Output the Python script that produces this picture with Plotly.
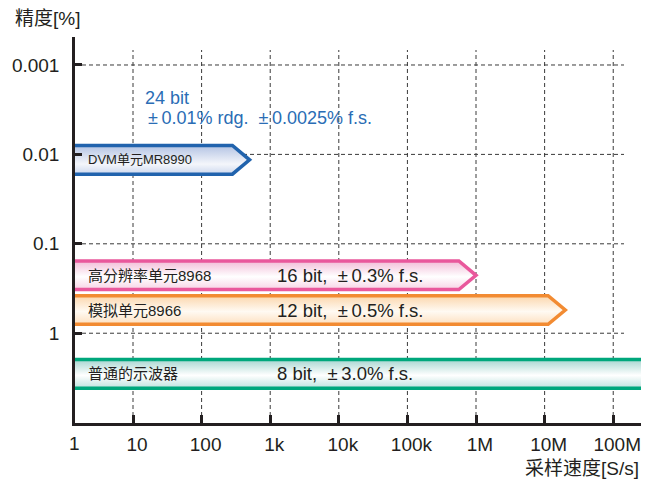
import numpy as np
import plotly.graph_objects as go

# ---- data ----
instruments = ["DVM单元MR8990", "高分辨率单元8968", "模拟单元8966", "普通的示波器"]
max_rate = [500, 1e6, 2e7, 1e9]              # S/s (arrow tip)
band_center = [0.0115, 0.225, 0.55, 2.85]     # accuracy position [%]
spec_text = ["", "16 bit,\u00a0 ±\u20090.3% f.s.", "12 bit,\u00a0 ±\u20090.5% f.s.", "8 bit,\u00a0 ±\u20093.0% f.s."]
dvm_spec = ["24 bit", "±\u20090.01% rdg.\u00a0 ±\u20090.0025% f.s."]
x_tickvals = [10, 100, 1e3, 1e4, 1e5, 1e6, 1e7, 1e8]
x_ticktext = ["10", "100", "1k", "10k", "100k", "1M", "10M", "100M"]
y_tickvals = [0.001, 0.01, 0.1, 1]
y_ticktext = ["0.001", "0.01", "0.1", "1"]

# ---- style ----
border = ["#2163ad", "#e9589c", "#f28b32", "#00a77c"]
grad = [
    [[0, "#cdd8ee"], [0.35, "#f4f6fb"], [1, "#b3c3e3"]],
    [[0, "#f7d3e5"], [0.45, "#ffffff"], [1, "#f2bdd8"]],
    [[0, "#fde0c0"], [0.45, "#fffaf3"], [1, "#fbd6ac"]],
    [[0, "#bfe2de"], [0.45, "#ffffff"], [1, "#a7d6d1"]],
]
HALF = 0.16   # band half height (decades)
HEAD = 0.25   # arrow head depth (decades)
DARK = "#231f20"
GRID = "#3a3a3a"
LAT = "Liberation Sans, Arial, Noto Sans CJK SC"

fig = go.Figure()
for i, name in enumerate(instruments):
    c = np.log10(band_center[i])
    t = np.log10(max_rate[i])
    xs = [0, t - HEAD, t, t - HEAD, 0, 0]
    ys = [c - HALF, c - HALF, c, c + HALF, c + HALF, c - HALF]
    fig.add_trace(go.Scatter(
        x=[10 ** v for v in xs], y=[10 ** v for v in ys],
        mode="lines", fill="toself",
        fillgradient=dict(type="vertical", colorscale=grad[i]),
        line=dict(color=border[i], width=3.5),
        hoverinfo="skip", showlegend=False,
    ))

L, R, T, B = 75, 11, 37, 60
W, H = 652, 483
pw, ph = W - L - R, H - T - B

def px_x(px):
    return (px - L) / pw

def px_y(py):
    return (H - B - py) / ph

# dashed grid drawn as shapes (shorter than the plot area, as in the reference)
shapes = []
for v in x_tickvals:
    shapes.append(dict(type="line", layer="below", xref="x", yref="paper",
                       x0=v, x1=v, y0=0, y1=px_y(50),
                       line=dict(color=GRID, width=1, dash="4px,3px")))
for v in y_tickvals:
    shapes.append(dict(type="line", layer="below", xref="paper", yref="y",
                       x0=0, x1=px_x(624), y0=v, y1=v,
                       line=dict(color=GRID, width=1, dash="4px,3px")))

ann = []
for i, name in enumerate(instruments):
    ann.append(dict(text=name, xref="paper", x=px_x(86), xanchor="left",
                    yref="y", y=np.log10(band_center[i]), yanchor="middle",
                    showarrow=False,
                    font=dict(family=LAT, size=13 if i == 0 else 15, color=DARK)))
    if spec_text[i]:
        ann.append(dict(text=spec_text[i], xref="paper", x=px_x(275), xanchor="left",
                        yref="y", y=np.log10(band_center[i]), yanchor="middle",
                        showarrow=False, font=dict(family=LAT, size=18.5, color=DARK)))
ann.append(dict(text=dvm_spec[0], xref="paper", x=px_x(143), xanchor="left",
                yref="paper", y=px_y(98), yanchor="middle", showarrow=False,
                font=dict(family=LAT, size=18, color="#2a6db5")))
ann.append(dict(text=dvm_spec[1], xref="paper", x=px_x(146), xanchor="left",
                yref="paper", y=px_y(118), yanchor="middle", showarrow=False,
                font=dict(family=LAT, size=18, color="#2a6db5")))
# axis titles
ann.append(dict(text="精度[%]", xref="paper", x=px_x(13), xanchor="left",
                yref="paper", y=px_y(18), yanchor="middle", showarrow=False,
                font=dict(family=LAT, size=19, color=DARK)))
ann.append(dict(text="采样速度[S/s]", xref="paper", x=px_x(641), xanchor="right",
                yref="paper", y=px_y(468), yanchor="middle", showarrow=False,
                font=dict(family=LAT, size=19, color=DARK)))
# origin label "1"
ann.append(dict(text="1", xref="paper", x=px_x(74), xanchor="center",
                yref="paper", y=px_y(443), yanchor="middle", showarrow=False,
                font=dict(family=LAT, size=19, color=DARK)))

fig.update_layout(
    width=W, height=H,
    margin=dict(l=L, r=R, t=T, b=B, pad=0),
    paper_bgcolor="white", plot_bgcolor="white",
    annotations=ann, shapes=shapes,
    xaxis=dict(type="log", range=[0.1545, 8.405],
               tickvals=x_tickvals, ticktext=x_ticktext,
               ticks="inside", ticklen=8, tickwidth=3, tickcolor=DARK,
               showline=True, linecolor=DARK, linewidth=2.5,
               showgrid=False, zeroline=False,
               ticklabelstandoff=2, ticklabelshift=4,
               tickfont=dict(family=LAT, size=19, color=DARK)),
    yaxis=dict(type="log", range=[1.004, -3.313],
               tickvals=y_tickvals, ticktext=y_ticktext,
               ticks="inside", ticklen=7, tickwidth=3, tickcolor=DARK,
               showline=True, linecolor=DARK, linewidth=2.5,
               showgrid=False, zeroline=False, ticklabelstandoff=9,
               tickfont=dict(family=LAT, size=19, color=DARK)),
)
fig.write_html("out.html", config={"displayModeBar": False},
               post_script="document.body.style.margin='0';document.body.style.padding='0';")
